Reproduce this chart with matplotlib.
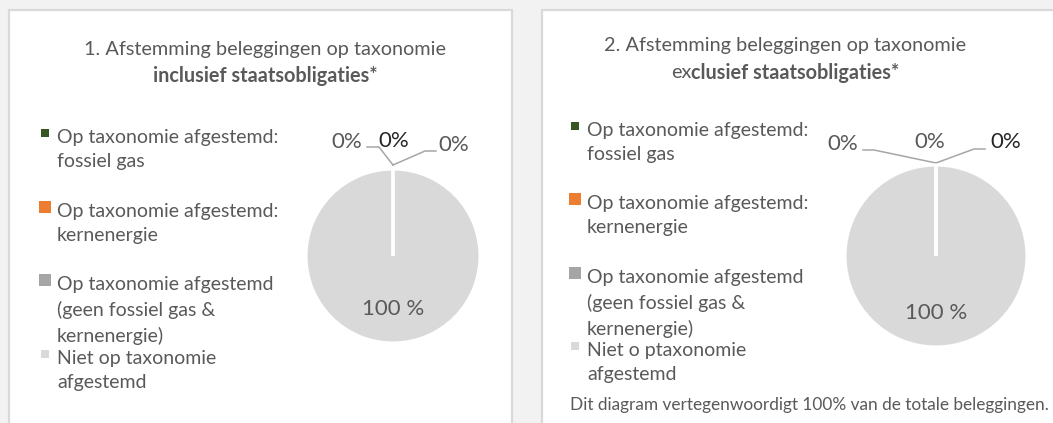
import matplotlib
matplotlib.use("Agg")
import matplotlib.pyplot as plt
from matplotlib.patches import Rectangle

plt.rcParams['font.family'] = ['Lato', 'DejaVu Sans']

W, H = 1053, 423
DPI = 100

categories = [
    "Op taxonomie afgestemd:\nfossiel gas",
    "Op taxonomie afgestemd:\nkernenergie",
    "Op taxonomie afgestemd\n(geen fossiel gas &\nkernenergie)",
]
last_label_1 = "Niet op taxonomie\nafgestemd"
last_label_2 = "Niet o ptaxonomie\nafgestemd"
values_incl = [0, 0, 0, 100]
values_excl = [0, 0, 0, 100]
colors = ["#375623", "#ed7d31", "#a5a5a5", "#d9d9d9"]
marker_sizes = [8, 12, 12, 8]
footnote = "Dit diagram vertegenwoordigt 100% van de totale beleggingen."

TEXT = "#595959"
DARK = "#262626"

fig = plt.figure(figsize=(W / DPI, H / DPI), dpi=DPI)
fig.patch.set_facecolor("#f2f2f2")
bg = fig.add_axes([0, 0, 1, 1])
bg.set_xlim(0, W)
bg.set_ylim(H, 0)
bg.axis("off")

# panels
bg.add_patch(Rectangle((8.5, 10), 503, 430, facecolor="white", edgecolor="#d9d9d9", lw=1.6))
bg.add_patch(Rectangle((542, 10), 530, 430, facecolor="white", edgecolor="#d9d9d9", lw=1.6))

TFS = 14.3
LFS = 14
PFS = 16


def fmt(v):
    return f"{v} %" if v >= 100 else f"{v}%"


def title(cx, y1, y2, line1, pre, bold):
    bg.text(cx, y1, line1, ha="center", va="center", fontsize=TFS, color=TEXT)
    if pre:
        t1 = bg.text(0, y2, pre, ha="left", va="center", fontsize=TFS, color=TEXT)
        t2 = bg.text(0, y2, bold, ha="left", va="center", fontsize=TFS, color=TEXT, fontweight="bold")
        fig.canvas.draw()
        r = fig.canvas.get_renderer()
        w1 = t1.get_window_extent(r).width
        w2 = t2.get_window_extent(r).width
        x0 = cx - (w1 + w2) / 2
        t1.set_x(x0)
        t2.set_x(x0 + w1)
    else:
        bg.text(cx, y2, bold, ha="center", va="center", fontsize=TFS, color=TEXT, fontweight="bold")


def legend(x_marker, x_text, ys, labels):
    for (y, lab, col, ms) in zip(ys, labels, colors, marker_sizes):
        bg.scatter([x_marker], [y], marker="s", s=(ms * 0.72) ** 2, color=col, linewidths=0)
        bg.text(x_text, y - 4, lab, ha="left", va="top", fontsize=LFS, color=TEXT, linespacing=1.52)


def pie(cx, cy, r, values, label_pos, label_colors, leaders, big_y):
    ax = fig.add_axes([(cx - r) / W, 1 - (cy + r) / H, 2 * r / W, 2 * r / H])
    wedges, _ = ax.pie(values, colors=colors, startangle=90, counterclock=False,
                       wedgeprops=dict(edgecolor="white", linewidth=2.2))
    for w, v in zip(wedges, values):
        if v == 0:
            w.set_zorder(5)
    ax.set_xlim(-1, 1)
    ax.set_ylim(-1, 1)
    ax.axis("off")
    for (x, y), c, v in zip(label_pos, label_colors, values[:3]):
        bg.text(x, y, fmt(v), ha="center", va="center", fontsize=PFS, color=c)
    for pts in leaders:
        xs, ys = zip(*pts)
        bg.plot(xs, ys, color="#a6a6a6", lw=1.1, solid_joinstyle="miter")
    ax.text(cx, big_y, fmt(values[3]), ha="center", va="center", fontsize=PFS,
            color=TEXT, transform=bg.transData, zorder=10)


# ---- panel 1
title(265, 49, 76, "1. Afstemming beleggingen op taxonomie", None, "inclusief staatsobligaties*")
legend(45, 57, [133, 207, 280, 354], categories + [last_label_1])
pie(393, 256, 87, values_incl,
    [(347, 142), (394, 141), (454, 145)],
    [TEXT, DARK, TEXT],
    [[(367, 147), (379, 147), (393, 165)],
     [(393, 165), (425, 151), (436, 151)]],
    309)

# ---- panel 2
title(785, 46, 73, "2. Afstemming beleggingen op taxonomie", "ex", "clusief staatsobligaties*")
legend(575, 587, [126, 199, 273, 346], categories + [last_label_2])
pie(936, 256, 91, values_excl,
    [(843, 144), (930, 142), (1006, 142)],
    [TEXT, TEXT, DARK],
    [[(863, 150), (874, 150), (936, 163)],
     [(936, 163), (974, 149), (985, 149)]],
    313)
bg.text(570, 405, footnote, ha="left", va="center", fontsize=12.4, color=TEXT)

fig.savefig("out.png", dpi=DPI, facecolor=fig.get_facecolor())
